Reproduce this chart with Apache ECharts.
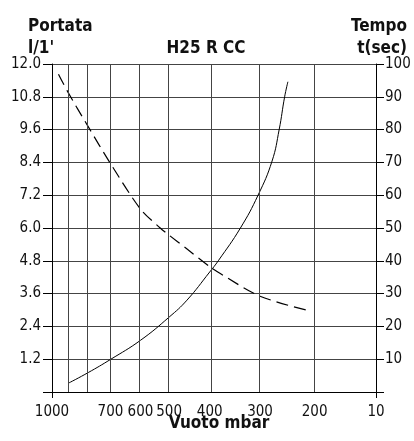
<!DOCTYPE html>
<html>
<head>
<meta charset="utf-8">
<script src="https://cdn.jsdelivr.net/npm/echarts@6/dist/echarts.min.js"></script>
<style>
  html, body { margin: 0; background: #fff; }
  #chart { width: 414px; height: 441px; }
</style>
</head>
<body>
<div id="chart"></div>
<script>
// vacuum scale of the sheet: gridlines and where each one sits along the axis (0..1)
const vacuumTicks = [1000, 900, 800, 700, 600, 500, 400, 300, 200, 10];
const vacuumScale = [0, 0.0487, 0.1117, 0.1804, 0.2730, 0.3615, 0.4867, 0.6422, 0.8106, 1];
const vacuumLabels = [1000, 700, 600, 500, 400, 300, 200, 10];

// Portata (l/1') against vacuum
const portataVac = [895, 800, 700, 600, 500, 456, 400, 383, 339, 304, 278, 265, 255, 249];
const portata = [0.33, 0.71, 1.19, 1.89, 2.74, 3.36, 4.39, 4.80, 6.00, 7.20, 8.45, 9.60, 10.80, 11.35];

// Tempo (sec) against vacuum
const tempoVac = [959, 900, 800, 703, 600, 531, 500, 455, 400, 379, 300, 211];
const tempo = [96.9, 91.5, 80.9, 70.0, 55.8, 50.0, 47.8, 43.5, 38.2, 36.1, 29.2, 24.8];

const FONT = '"DejaVu Sans Condensed", "DejaVu Sans", sans-serif';

// piecewise position of a vacuum value on the sheet's scale
function toX(v) {
  for (let i = 0; i < vacuumTicks.length - 1; i++) {
    const a = vacuumTicks[i], b = vacuumTicks[i + 1];
    if (v <= a && v >= b) {
      return vacuumScale[i] + (a - v) / (a - b) * (vacuumScale[i + 1] - vacuumScale[i]);
    }
  }
  return v > vacuumTicks[0] ? 0 : 1;
}

function labelFor(x) {
  let best = vacuumLabels[0], d = 1e9;
  vacuumLabels.forEach(function (v) {
    const dd = Math.abs(toX(v) - x);
    if (dd < d) { d = dd; best = v; }
  });
  return String(best);
}

const gridColor = '#444';
const titleStyle = { fontFamily: FONT, fontSize: 17, fontWeight: 'bold', color: '#111' };

const option = {
  animation: false,
  title: [
    { text: 'Portata', left: 23, top: 13, textStyle: titleStyle },
    { text: "l/1'", left: 23, top: 35, textStyle: titleStyle },
    { text: 'H25 R CC', left: 201, textAlign: 'center', top: 35, textStyle: titleStyle },
    { text: 'Tempo', right: 2, top: 13, textStyle: titleStyle },
    { text: 't(sec)', right: 2, top: 35, textStyle: titleStyle },
    { text: 'Vuoto mbar', left: 214, textAlign: 'center', top: 410, textStyle: titleStyle }
  ],
  grid: { left: 52, right: 38, top: 64, bottom: 49 },
  xAxis: {
    type: 'value',
    min: 0,
    max: 1,
    axisLine: { show: true, lineStyle: { color: '#000', width: 1 } },
    axisTick: { show: true, length: 6, customValues: [0, 1], lineStyle: { color: '#000' } },
    axisLabel: {
      customValues: vacuumLabels.map(toX),
      formatter: labelFor,
      margin: 13,
      fontFamily: FONT,
      fontSize: 15,
      color: '#111'
    },
    splitLine: { show: false }
  },
  yAxis: [
    {
      type: 'value',
      min: 0,
      max: 12,
      interval: 1.2,
      axisLine: { show: true, lineStyle: { color: '#000' } },
      axisTick: { show: true, length: 9, lineStyle: { color: '#000' } },
      axisLabel: {
        margin: 11,
        fontFamily: FONT,
        fontSize: 15,
        color: '#111',
        formatter: function (v) { return v === 0 ? '' : v.toFixed(1); }
      },
      splitLine: { show: true, lineStyle: { color: gridColor, width: 1 } }
    },
    {
      type: 'value',
      min: 0,
      max: 100,
      interval: 10,
      position: 'right',
      axisLine: { show: true, lineStyle: { color: '#000' } },
      axisTick: { show: true, length: 8, lineStyle: { color: '#000' } },
      axisLabel: {
        margin: 9,
        fontFamily: FONT,
        fontSize: 15,
        color: '#111',
        formatter: function (v) { return v === 0 ? '' : String(v); }
      },
      splitLine: { show: false }
    }
  ],
  series: [
    {
      name: 'Portata',
      type: 'line',
      yAxisIndex: 0,
      smooth: 0.45,
      symbol: 'none',
      data: portataVac.map(function (v, i) { return [toX(v), portata[i]]; }),
      lineStyle: { color: '#000', width: 1 },
      markLine: {
        silent: true,
        symbol: 'none',
        label: { show: false },
        lineStyle: { color: gridColor, type: 'solid', width: 1 },
        data: vacuumTicks.slice(1, -1).map(function (v) { return { xAxis: toX(v) }; })
      },
      z: 3
    },
    {
      name: 'Tempo',
      type: 'line',
      yAxisIndex: 1,
      smooth: 0.3,
      symbol: 'none',
      data: tempoVac.map(function (v, i) { return [toX(v), tempo[i]]; }),
      lineStyle: { color: '#000', width: 1.2, type: [12, 6] },
      z: 3
    }
  ]
};

echarts.init(document.getElementById('chart')).setOption(option);
</script>
</body>
</html>
